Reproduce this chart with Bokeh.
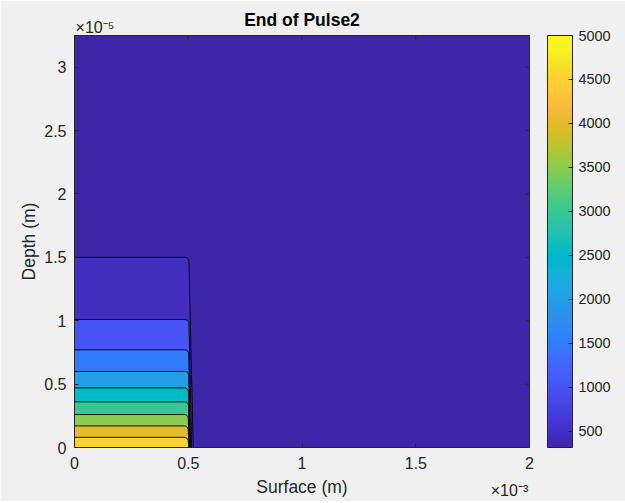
import numpy as np
from bokeh.plotting import figure
from bokeh.models import (LinearColorMapper, ColorBar, FixedTicker, LinearAxis,
                          Range1d, ColumnDataSource, NumeralTickFormatter,
                          CustomJSTickFormatter)
from bokeh.embed import file_html
from bokeh.resources import INLINE

# ---------------- data ----------------
title_text = "End of Pulse2"
x_label = "Surface (m)"
y_label = "Depth (m)"
x_exp_label = "\u00d710\u207b\u00b3"   # x values in units of 1e-3 m
y_exp_label = "\u00d710\u207b\u2075"   # y values in units of 1e-5 m
x_max = 2.0
y_max = 3.25
z_min = 318
z_max = 5000
levels = [500, 1000, 1500, 2000, 2500, 3000, 3500, 4000, 4500]
level_depth = [1.50, 1.01, 0.77, 0.60, 0.47, 0.36, 0.26, 0.17, 0.08]          # x1e-5 m
edge_top = [0.503, 0.503, 0.502, 0.502, 0.501, 0.501, 0.500, 0.500, 0.500]    # x1e-3 m
edge_bottom = [0.522, 0.515, 0.511, 0.508, 0.506, 0.505, 0.504, 0.503, 0.502]  # x1e-3 m
x_ticks = [0, 0.5, 1, 1.5, 2]
y_ticks = [0, 0.5, 1, 1.5, 2, 2.5, 3]
cbar_ticks = [500, 1000, 1500, 2000, 2500, 3000, 3500, 4000, 4500, 5000]

# ---------------- style ----------------
parula64 = [
    (0.2422, 0.1504, 0.6603), (0.2504, 0.1650, 0.7076), (0.2578, 0.1818, 0.7511),
    (0.2647, 0.1978, 0.7952), (0.2706, 0.2147, 0.8364), (0.2751, 0.2342, 0.8710),
    (0.2783, 0.2559, 0.8991), (0.2803, 0.2782, 0.9221), (0.2813, 0.3006, 0.9414),
    (0.2810, 0.3228, 0.9579), (0.2795, 0.3447, 0.9717), (0.2760, 0.3667, 0.9829),
    (0.2699, 0.3892, 0.9906), (0.2602, 0.4123, 0.9952), (0.2440, 0.4358, 0.9988),
    (0.2206, 0.4603, 0.9973), (0.1963, 0.4847, 0.9892), (0.1834, 0.5074, 0.9798),
    (0.1786, 0.5289, 0.9682), (0.1764, 0.5499, 0.9520), (0.1687, 0.5703, 0.9359),
    (0.1540, 0.5902, 0.9218), (0.1460, 0.6091, 0.9079), (0.1380, 0.6276, 0.8973),
    (0.1248, 0.6459, 0.8883), (0.1113, 0.6635, 0.8763), (0.0952, 0.6798, 0.8598),
    (0.0689, 0.6948, 0.8394), (0.0297, 0.7082, 0.8163), (0.0036, 0.7203, 0.7917),
    (0.0067, 0.7312, 0.7660), (0.0433, 0.7411, 0.7394), (0.0964, 0.7500, 0.7120),
    (0.1408, 0.7584, 0.6842), (0.1717, 0.7670, 0.6554), (0.1938, 0.7758, 0.6251),
    (0.2161, 0.7843, 0.5923), (0.2470, 0.7918, 0.5567), (0.2906, 0.7973, 0.5188),
    (0.3406, 0.8008, 0.4789), (0.3909, 0.8029, 0.4354), (0.4456, 0.8024, 0.3909),
    (0.5044, 0.7993, 0.3480), (0.5616, 0.7942, 0.3045), (0.6174, 0.7876, 0.2612),
    (0.6720, 0.7793, 0.2227), (0.7242, 0.7698, 0.1910), (0.7738, 0.7598, 0.1646),
    (0.8203, 0.7498, 0.1535), (0.8634, 0.7406, 0.1596), (0.9035, 0.7330, 0.1774),
    (0.9393, 0.7288, 0.2100), (0.9728, 0.7298, 0.2394), (0.9956, 0.7434, 0.2371),
    (0.9970, 0.7659, 0.2199), (0.9952, 0.7893, 0.2028), (0.9892, 0.8136, 0.1885),
    (0.9794, 0.8386, 0.1766), (0.9739, 0.8646, 0.1652), (0.9705, 0.8911, 0.1533),
    (0.9696, 0.9190, 0.1421), (0.9697, 0.9441, 0.1318), (0.9681, 0.9633, 0.1160),
    (0.9769, 0.9839, 0.0805)]
arr = np.array(parula64)
t64 = np.linspace(0, 1, len(arr))
pal = []
for t in np.linspace(0, 1, 256):
    rgb = [np.interp(t, t64, arr[:, c]) for c in range(3)]
    pal.append("#%02x%02x%02x" % tuple(int(round(v * 255)) for v in rgb))

FONT = "Liberation Sans"
TXT = "#262626"
BG = "#f0f0f0"
FW, FH = 455, 412

mapper = LinearColorMapper(palette=pal, low=z_min, high=z_max)

p = figure(frame_width=FW, frame_height=FH,
           x_range=Range1d(0, x_max), y_range=Range1d(0, y_max),
           output_backend="svg", toolbar_location=None,
           min_border_left=74, min_border_right=96, min_border_top=35, min_border_bottom=10,
           border_fill_color=BG, background_fill_color=pal[0])
p.grid.visible = False
p.outline_line_color = TXT
p.outline_line_width = 1

# ambient background cell (lowest value of the field)
p.quad(left="l", right="r", bottom="b", top="t",
       fill_color={"field": "z", "transform": mapper}, line_color=None,
       source=ColumnDataSource(dict(l=[0], r=[x_max], b=[0], t=[y_max], z=[z_min])))

# filled contour bands (outermost level first)
px_per_x = FW / x_max
px_per_y = FH / y_max
r_px = 4.0
rx, ry = r_px / px_per_x, r_px / px_per_y
theta = np.linspace(np.pi / 2, 0, 7)
xs, ys = [], []
for d, xt, xb in zip(level_depth, edge_top, edge_bottom):
    cx = list(xt - rx + rx * np.cos(theta))
    cy = list(d - ry + ry * np.sin(theta))
    xs.append([0, 0] + cx + [xb])
    ys.append([0, d] + cy + [0])
src = ColumnDataSource(dict(xs=xs, ys=ys, z=levels))
p.patches("xs", "ys", source=src, fill_color={"field": "z", "transform": mapper},
          line_color="black", line_width=1, line_alpha=0.9)

# inward tick marks on top and right edges of the box
p.scatter(x=x_ticks, y=[y_max] * len(x_ticks), marker="dash", angle=np.pi / 2,
          size=8, line_color=TXT, line_width=1)
p.scatter(x=[x_max] * len(y_ticks), y=y_ticks, marker="dash",
          size=8, line_color=TXT, line_width=1)

fmt = NumeralTickFormatter(format="0.[0]")
for ax, ticks, lab in [(p.xaxis[0], x_ticks, x_label), (p.yaxis[0], y_ticks, y_label)]:
    ax.ticker = FixedTicker(ticks=ticks)
    ax.formatter = fmt
    ax.major_tick_in = 4
    ax.major_tick_out = 0
    ax.minor_tick_line_color = None
    ax.axis_line_color = TXT
    ax.major_tick_line_color = TXT
    ax.major_label_text_font = FONT
    ax.major_label_text_color = TXT
    ax.major_label_text_font_size = "16px"
    ax.axis_label = lab
    ax.axis_label_text_font = FONT
    ax.axis_label_text_color = TXT
    ax.axis_label_text_font_style = "normal"
    ax.axis_label_text_font_size = "17.5px"
p.xaxis.major_label_standoff = 9
p.xaxis.axis_label_standoff = 5
p.yaxis.major_label_standoff = 8
p.yaxis.axis_label_standoff = 2

# text placement (layout, in screen pixels from the frame edges)
top_exp_center_px = 20.5     # centre of the top-left exponent, right of the frame's left edge
bottom_exp_center_px = -20   # centre of the bottom-right exponent, from the frame's right edge


def text_axis(text, pos, label_standoff, title=None, title_standoff=0):
    ax = LinearAxis(ticker=FixedTicker(ticks=[pos]),
                    formatter=CustomJSTickFormatter(code="return %r;" % text),
                    axis_line_color=None, major_tick_line_color=None,
                    minor_tick_line_color=None, major_tick_in=0, major_tick_out=0,
                    major_label_standoff=label_standoff,
                    major_label_text_font=FONT, major_label_text_font_size="16px",
                    major_label_text_color=TXT)
    if title is not None:
        ax.axis_label = title
        ax.axis_label_standoff = title_standoff
        ax.axis_label_text_font = FONT
        ax.axis_label_text_font_size = "17.5px"
        ax.axis_label_text_color = "#000000"
        ax.axis_label_text_font_style = "bold"
    return ax


# top: y-axis exponent (left) and the title on the same row
p.add_layout(text_axis(y_exp_label, top_exp_center_px / px_per_x, 0,
                       title=title_text, title_standoff=-14), "above")
# bottom: x-axis exponent on the row of the x label
p.add_layout(text_axis(x_exp_label, x_max + bottom_exp_center_px / px_per_x, -18), "below")

cb = ColorBar(color_mapper=mapper, ticker=FixedTicker(ticks=cbar_ticks),
              formatter=NumeralTickFormatter(format="0"),
              width=25, height=FH, padding=0, margin=0, location=(18, 0),
              major_tick_in=4, major_tick_out=0, major_tick_line_color=TXT,
              minor_tick_line_color=None, bar_line_color=TXT, label_standoff=6,
              major_label_text_font=FONT, major_label_text_font_size="14.4px",
              major_label_text_color=TXT, background_fill_color=None,
              border_line_color=None)
p.add_layout(cb, "right")

open("out.html", "w").write(file_html(p, INLINE))
